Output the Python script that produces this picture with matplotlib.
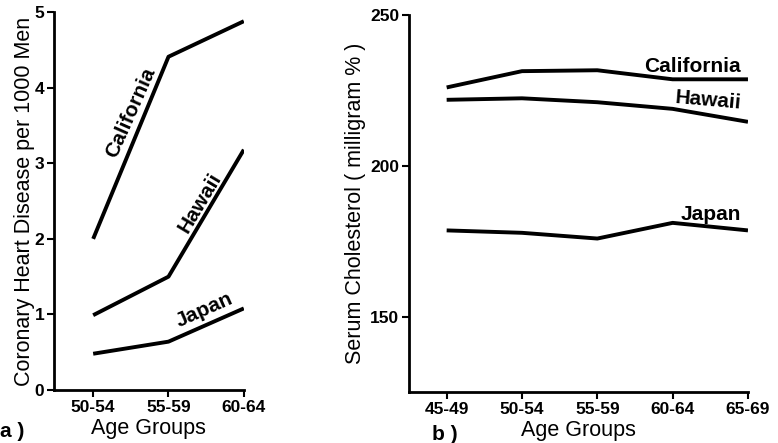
import matplotlib
matplotlib.use("Agg")
import matplotlib.pyplot as plt

plt.rcParams['font.family'] = ['Liberation Sans', 'DejaVu Sans']

# Panel a data
ages_a = ["50-54", "55-59", "60-64"]
chd_california = [2.0, 4.41, 4.88]
chd_hawaii = [0.99, 1.50, 3.18]
chd_japan = [0.48, 0.64, 1.08]

# Panel b data
ages_b = ["45-49", "50-54", "55-59", "60-64", "65-69"]
chol_california = [226.0, 231.4, 231.7, 228.7, 228.7]
chol_hawaii = [221.9, 222.4, 221.1, 218.9, 214.6]
chol_japan = [178.6, 177.8, 175.9, 181.1, 178.6]

yticks_a = [0, 1, 2, 3, 4, 5]
yticks_b = [150, 200, 250]

fig = plt.figure(figsize=(7.78, 4.43), dpi=100)
ax1 = fig.add_axes([0.0694, 0.1196, 0.244, 0.853])
ax2 = fig.add_axes([0.5257, 0.115, 0.4357, 0.851])

lw = 2.8
for ax in (ax1, ax2):
    for s in ('top', 'right'):
        ax.spines[s].set_visible(False)
    for s in ('left', 'bottom'):
        ax.spines[s].set_linewidth(2.0)
    ax.tick_params(direction='out', length=5, width=1.5, labelsize=12.5, pad=2)

xa = list(range(len(ages_a)))
ax1.plot(xa, chd_california, color='black', lw=lw, solid_capstyle='butt')
ax1.plot(xa, chd_hawaii, color='black', lw=lw, solid_capstyle='butt')
ax1.plot(xa, chd_japan, color='black', lw=lw, solid_capstyle='butt')
ax1.set_xlim(-0.52, 2.0)
ax1.set_ylim(0, 5)
ax1.set_xticks(xa)
ax1.set_xticklabels(ages_a, fontweight='bold')
ax1.set_yticks(yticks_a)
ax1.set_yticklabels([str(v) for v in yticks_a], fontweight='bold')
ax1.set_ylabel("Coronary Heart Disease per 1000 Men", fontsize=15.5, labelpad=0)
ax1.set_xlabel("Age Groups", fontsize=15.5, labelpad=2)
ax1.text(0.50, 3.67, "California", fontsize=15, fontweight='bold', rotation=66,
         ha='center', va='center', rotation_mode='anchor')
ax1.text(1.42, 2.48, "Hawaii", fontsize=15, fontweight='bold', rotation=59,
         ha='center', va='center', rotation_mode='anchor')
ax1.text(1.47, 1.06, "Japan", fontsize=15, fontweight='bold', rotation=24,
         ha='center', va='center', rotation_mode='anchor')

xb = list(range(len(ages_b)))
ax2.plot(xb, chol_california, color='black', lw=lw, solid_capstyle='butt')
ax2.plot(xb, chol_hawaii, color='black', lw=lw, solid_capstyle='butt')
ax2.plot(xb, chol_japan, color='black', lw=lw, solid_capstyle='butt')
ax2.set_xlim(-0.5, 4.0)
ax2.set_ylim(125, 250)
ax2.set_xticks(xb)
ax2.set_xticklabels(ages_b, fontweight='bold')
ax2.set_yticks(yticks_b)
ax2.set_yticklabels([str(v) for v in yticks_b], fontweight='bold')
ax2.set_ylabel("Serum Cholesterol ( milligram % )", fontsize=15.5, labelpad=3)
ax2.set_xlabel("Age Groups", fontsize=15.5, labelpad=2)
ax2.text(3.26, 233.0, "California", fontsize=15, fontweight='bold',
         ha='center', va='center')
ax2.text(3.47, 221.7, "Hawaii", fontsize=15, fontweight='bold', rotation=-5,
         ha='center', va='center', rotation_mode='anchor')
ax2.text(3.51, 184.0, "Japan", fontsize=15, fontweight='bold',
         ha='center', va='center')

fig.text(0.0, 0.025, "a )", fontsize=15, fontweight='bold', ha='left', va='center')
fig.text(0.555, 0.02, "b )", fontsize=15, fontweight='bold', ha='left', va='center')

fig.savefig("out.png", dpi=100)
